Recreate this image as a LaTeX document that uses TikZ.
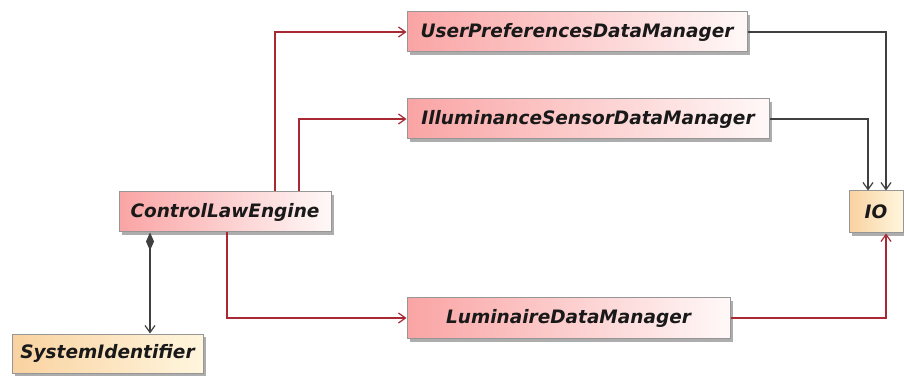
\documentclass[tikz,border=0pt]{standalone}
\usepackage{fontspec}
\setmainfont{DejaVu Sans}
\usetikzlibrary{arrows.meta,shadows}
\definecolor{redln}{RGB}{168,40,52}
\definecolor{grayln}{RGB}{64,64,64}
\definecolor{boxborder}{RGB}{150,150,150}
\definecolor{pinkL}{RGB}{250,164,164}
\definecolor{pinkR}{RGB}{255,248,248}
\definecolor{orangeL}{RGB}{249,210,160}
\definecolor{orangeR}{RGB}{255,246,222}
\tikzset{
  cls/.style={draw=boxborder, line width=1pt, inner sep=0pt, minimum height=40pt,
    font=\fontsize{18.5}{22}\selectfont\bfseries\itshape, text=black!90,
    drop shadow={shadow xshift=3pt, shadow yshift=-3pt, fill=black!40, opacity=0.8}},
  pinkbox/.style={cls, left color=pinkL, right color=pinkR},
  orbox/.style={cls, left color=orangeL, right color=orangeR},
  redcon/.style={draw=redln, line width=1.2pt, -{Straight Barb[length=7pt,width=10pt]}},
  graycon/.style={draw=grayln, line width=1.2pt, -{Straight Barb[length=7pt,width=10pt]}},
  compcon/.style={draw=grayln, line width=1.2pt, {Diamond[length=18pt,width=8pt]}-{Straight Barb[length=7pt,width=10pt]}}
}
\begin{document}
\begin{tikzpicture}[x=1pt,y=-1pt]
\useasboundingbox[fill=white] (0,0) rectangle (904,379);
\node[pinkbox, minimum width=340pt] (UPDM) at (577,32) {UserPreferencesDataManager};
\node[pinkbox, minimum width=362pt] (ISDM) at (588,119) {IlluminanceSensorDataManager};
\node[pinkbox, minimum width=212pt] (CLE) at (225,212) {ControlLawEngine};
\node[pinkbox, minimum width=323pt, minimum height=41pt] (LDM) at (568.5,318) {LuminaireDataManager};
\node[orbox, minimum width=54pt, minimum height=42pt] (IO) at (876,212) {IO};
\node[orbox, minimum width=191pt, minimum height=39pt] (SI) at (107.5,353.5) {SystemIdentifier};

\draw[redcon] ([xshift=50pt]CLE.north) |- (UPDM.west);
\draw[redcon] ([xshift=74pt]CLE.north) |- (ISDM.west);
\draw[redcon] ([xshift=2pt]CLE.south) |- (LDM.west);
\draw[redcon] (LDM.east) -| ([xshift=10pt]IO.south);
\draw[graycon] (UPDM.east) -| ([xshift=10pt]IO.north);
\draw[graycon] (ISDM.east) -| ([xshift=-8pt]IO.north);
\coordinate (sitop) at ([xshift=-75pt]CLE.south |- SI.north);
\draw[compcon] ([xshift=-75pt]CLE.south) -- (sitop);
\end{tikzpicture}
\end{document}
